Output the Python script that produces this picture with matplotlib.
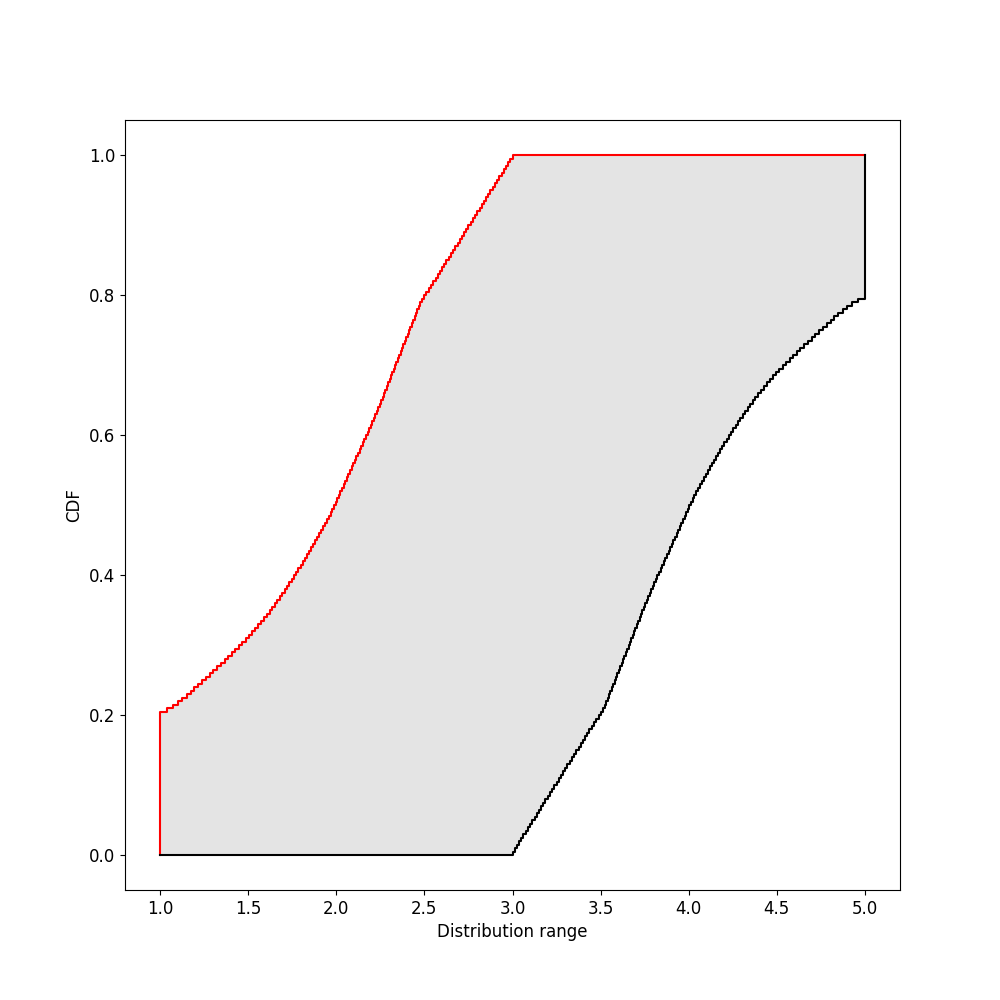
import numpy as np
import matplotlib
matplotlib.use("Agg")
import matplotlib.pyplot as plt

# probability levels of the steps (200-step p-box)
upper_p = [round(0.205 + 0.005 * i, 3) for i in range(160)]
lower_p = [round(0.005 + 0.005 * i, 3) for i in range(160)]

# x where the upper (red) bound reaches each level
upper_q = [1.000, 1.040, 1.070, 1.100, 1.126, 1.150, 1.172, 1.194, 1.216, 1.238,
           1.259, 1.280, 1.302, 1.323, 1.344, 1.365, 1.386, 1.406, 1.426, 1.446,
           1.466, 1.485, 1.504, 1.522, 1.540, 1.557, 1.574, 1.590, 1.606, 1.621,
           1.636, 1.650, 1.664, 1.678, 1.692, 1.706, 1.720, 1.733, 1.746, 1.759,
           1.772, 1.785, 1.797, 1.809, 1.821, 1.833, 1.845, 1.857, 1.869, 1.880,
           1.891, 1.902, 1.913, 1.924, 1.936, 1.948, 1.958, 1.968, 1.978, 1.987,
           1.996, 2.005, 2.014, 2.023, 2.032, 2.041, 2.050, 2.059, 2.068, 2.077,
           2.086, 2.095, 2.104, 2.113, 2.123, 2.132, 2.141, 2.150, 2.159, 2.168,
           2.177, 2.186, 2.195, 2.203, 2.212, 2.220, 2.229, 2.237, 2.246, 2.254,
           2.262, 2.270, 2.278, 2.286, 2.294, 2.302, 2.310, 2.318, 2.326, 2.334,
           2.341, 2.349, 2.357, 2.365, 2.372, 2.380, 2.388, 2.396, 2.404, 2.412,
           2.420, 2.428, 2.436, 2.444, 2.452, 2.460, 2.468, 2.476, 2.485, 2.495,
           2.510, 2.525, 2.538, 2.550, 2.563, 2.575, 2.588, 2.600, 2.613, 2.625,
           2.638, 2.650, 2.663, 2.675, 2.688, 2.700, 2.713, 2.725, 2.738, 2.750,
           2.763, 2.775, 2.788, 2.800, 2.813, 2.825, 2.838, 2.850, 2.863, 2.875,
           2.888, 2.900, 2.913, 2.925, 2.938, 2.950, 2.963, 2.975, 2.988, 3.000]

# x where the lower (black) bound reaches each level
lower_q = [3.000, 3.012, 3.025, 3.037, 3.050, 3.062, 3.075, 3.087, 3.100, 3.112,
           3.125, 3.137, 3.150, 3.162, 3.175, 3.187, 3.200, 3.212, 3.225, 3.237,
           3.250, 3.262, 3.275, 3.287, 3.300, 3.312, 3.325, 3.337, 3.350, 3.362,
           3.375, 3.387, 3.400, 3.412, 3.425, 3.437, 3.450, 3.462, 3.475, 3.490,
           3.505, 3.515, 3.524, 3.532, 3.540, 3.548, 3.556, 3.564, 3.572, 3.580,
           3.588, 3.596, 3.604, 3.612, 3.620, 3.628, 3.635, 3.643, 3.651, 3.659,
           3.666, 3.674, 3.682, 3.690, 3.698, 3.706, 3.714, 3.722, 3.730, 3.738,
           3.746, 3.754, 3.763, 3.771, 3.780, 3.788, 3.797, 3.805, 3.814, 3.823,
           3.832, 3.841, 3.850, 3.859, 3.868, 3.877, 3.887, 3.896, 3.905, 3.914,
           3.923, 3.932, 3.941, 3.950, 3.959, 3.968, 3.977, 3.986, 3.995, 4.004,
           4.013, 4.022, 4.032, 4.042, 4.052, 4.064, 4.076, 4.087, 4.098, 4.109,
           4.120, 4.131, 4.143, 4.155, 4.167, 4.179, 4.191, 4.203, 4.215, 4.228,
           4.241, 4.254, 4.267, 4.280, 4.294, 4.308, 4.322, 4.336, 4.350, 4.364,
           4.379, 4.394, 4.410, 4.426, 4.443, 4.460, 4.478, 4.496, 4.515, 4.534,
           4.554, 4.574, 4.594, 4.614, 4.635, 4.656, 4.677, 4.698, 4.720, 4.741,
           4.762, 4.784, 4.806, 4.828, 4.850, 4.874, 4.900, 4.930, 4.960, 5.000]

x_min, x_max = 1.0, 5.0


def step_xy(x, y):
    x = np.asarray(x)
    y = np.asarray(y)
    return np.repeat(x, 2)[1:], np.repeat(y, 2)[:-1]


ux, uy = step_xy([x_min] + upper_q + [x_max], [0.0] + upper_p + [1.0])
lx, ly = step_xy([x_min] + lower_q + [x_max], [0.0] + lower_p + [1.0])

fig, ax = plt.subplots(figsize=(10, 10), dpi=100)

ax.fill(np.concatenate([ux, lx[::-1]]), np.concatenate([uy, ly[::-1]]),
        color="#e4e4e4", lw=0, zorder=1)
ax.plot(ux, uy, color="red", lw=1.5, zorder=2)
ax.plot(lx, ly, color="black", lw=1.5, zorder=3)

ax.set_xlabel("Distribution range", fontsize=12)
ax.set_ylabel("CDF", fontsize=12)
ax.tick_params(labelsize=12)

fig.savefig("out.png")
